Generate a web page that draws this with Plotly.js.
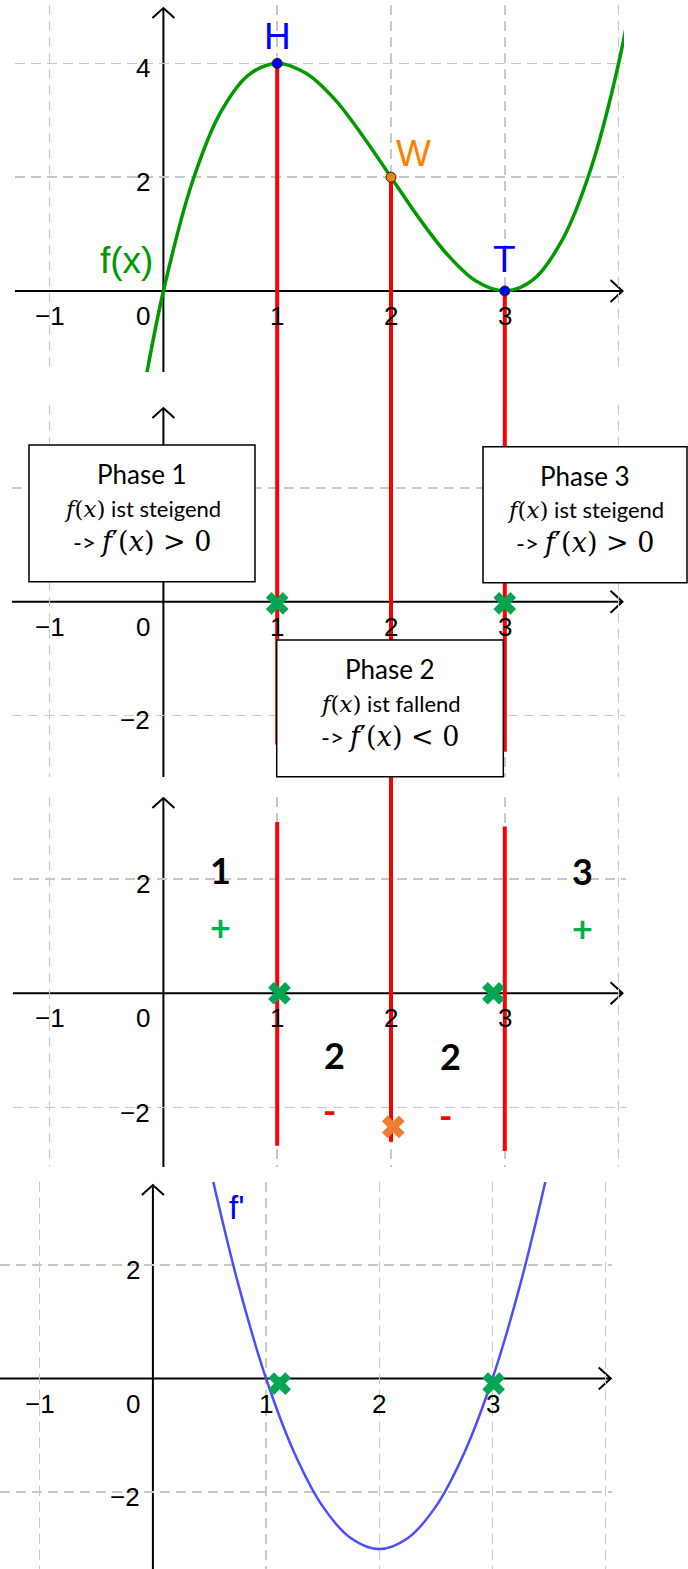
<!DOCTYPE html>
<html><head><meta charset="utf-8">
<script src="https://cdn.plot.ly/plotly-3.0.1.min.js"></script>
<style>html,body{margin:0;padding:0;background:#fff;}#chart{width:688px;height:1569px;}</style>
</head><body><div id="chart"></div>
<script>
// ---------- values ----------
// graph of f (top panel)
const fX = [-0.25,-0.15,0,0.25,0.5,0.75,1,1.25,1.5,1.75,2,2.25,2.5,2.75,3,3.25,3.5,3.75,4,4.25];
const fY = [-2.64,-1.49,0,1.89,3.13,3.80,4,3.83,3.38,2.73,2,1.27,0.63,0.17,0,0.2,0.88,2.11,4,6.64];
// graph of f' (bottom panel)
const dX = [0.4,0.5,0.75,1,1.25,1.5,1.75,2,2.25,2.5,2.75,3,3.25,3.5,3.6];
const dY = [4.68,3.75,1.69,0,-1.31,-2.25,-2.81,-3,-2.81,-2.25,-1.31,0,1.69,3.75,4.68];
// special points of f
const pointNames = ['H','W','T'];
const pointX = [1,2,3];
const pointY = [4,2,0];
const pointColors = ['#0000FF','#FF7F00','#0000FF'];
// red vertical lines (ends read per panel)
const redBottomP2 = [-2.52, -3.3, -2.64];
const redTopP3 = [3.0, 3.6, 2.92];
const redBottomP3 = [-2.67, -2.60, -2.76];
// crosses
const zeroX2 = [1, 3], zeroY2 = [-0.03, -0.03];
const zeroX3 = [1.02, 2.9], zeroY3 = [0, 0];
const turnX3 = [2.02], turnY3 = [-2.34];
const zeroX4 = [1.12, 3.01], zeroY4 = [-0.09, -0.09];
// phase numbers and signs (panel 3)
const phaseText = ['1','2','2','3'];
const phaseX = [0.50, 1.50, 2.52, 3.685];
const phaseY = [2.16, -1.08, -1.10, 2.15];
const signText = ['+','-','-','+'];
const signX = [0.50, 1.46, 2.48, 3.685];
const signY = [1.16, -2.04, -2.14, 1.14];
const signColors = ['#00B050','#FF0000','#FF0000','#00B050'];
// tick labels and grid values
const xTickVals = [-1, 1, 2, 3];
const yTickVals = [[2, 4], [-2], [2, -2], [2, -2]];
const xGridVals = [-1, 1, 2, 3, 4];
const yGridVals = [-4, -2, 2, 4];
// text boxes
const boxTitles = ['Phase 1','Phase 2','Phase 3'];
const boxVerb = ['ist steigend','ist fallend','ist steigend'];
const boxRel = ['&gt;','&lt;','&gt;'];

// ---------- geometry (pixels) ----------
const W = 688, H = 1569;
const panels = [
  {L:15, R:624, T:5,    B:372,  x0:163.4, sx:113.8, y0:291,    sy:56.9,  xTip:622.5, yTip:8},
  {L:12, R:625, T:405,  B:777,  x0:163.4, sx:113.8, y0:601.7,  sy:56.8,  xTip:622.5, yTip:408},
  {L:13, R:626, T:797,  B:1167, x0:163.4, sx:113.8, y0:993.3,  sy:57.1,  xTip:622.5, yTip:798},
  {L:0,  R:612, T:1182, B:1569, x0:152.9, sx:113.2, y0:1378.5, sy:56.85, xTip:610.7, yTip:1185}
];
const boxes = [[29,445,255,581.7],[276.7,640,503.3,776.7],[483,446.7,687,582.7]];
const lineOffsets = [29, 63, 96];

const px = p => p / W;
const py = p => 1 - p / H;

const layout = {
  width: W, height: H, margin: {l:0, r:0, t:0, b:0},
  paper_bgcolor: '#ffffff', plot_bgcolor: 'rgba(0,0,0,0)',
  showlegend: false, shapes: [], annotations: [],
  font: {family: 'Liberation Sans, Arial, sans-serif', color: '#000'}
};
const gridCommon = {showgrid:true, gridcolor:'#c8c8c8', gridwidth:1.5, griddash:'10px,6px',
  tickmode:'array', showticklabels:false, ticks:'', zeroline:false, showline:false, fixedrange:true};

function refs(k){ return k===1 ? {x:'x', y:'y', xa:'xaxis', ya:'yaxis'} : {x:'x'+k, y:'y'+k, xa:'xaxis'+k, ya:'yaxis'+k}; }

panels.forEach((p, i) => {
  const k = i + 1, r = refs(k);
  p.xr = [(p.L - p.x0) / p.sx, (p.R - p.x0) / p.sx];
  p.yr = [(p.y0 - p.B) / p.sy, (p.y0 - p.T) / p.sy];
  layout[r.xa] = Object.assign({}, gridCommon, {domain:[px(p.L), px(p.R)], range:p.xr, anchor:r.y, tickvals:xGridVals});
  layout[r.ya] = Object.assign({}, gridCommon, {domain:[py(p.B), py(p.T)], range:p.yr, anchor:r.x, tickvals:yGridVals});
  const xt = (p.xTip - p.x0) / p.sx, yt = (p.y0 - p.yTip) / p.sy;
  // axes with arrows
  layout.shapes.push({type:'line', xref:r.x, yref:r.y, x0:p.xr[0], x1:xt, y0:0, y1:0, layer:'below', line:{color:'#000', width:2}});
  layout.shapes.push({type:'line', xref:r.x, yref:r.y, x0:0, x1:0, y0:p.yr[0], y1:yt, layer:'below', line:{color:'#000', width:2}});
  layout.shapes.push({type:'path', xref:r.x, yref:r.y, xsizemode:'pixel', ysizemode:'pixel', xanchor:xt, yanchor:0,
    path:'M-12,-11L0,0L-12,11', layer:'below', line:{color:'#000', width:2}});
  layout.shapes.push({type:'path', xref:r.x, yref:r.y, xsizemode:'pixel', ysizemode:'pixel', xanchor:0, yanchor:yt,
    path:'M-11,-10L0,0L11,-10', layer:'below', line:{color:'#000', width:2}});
  // tick labels
  const tf = {family:'Liberation Sans, Arial, sans-serif', size:26, color:'#000'};
  xTickVals.forEach(v => layout.annotations.push({xref:r.x, yref:r.y, x:v, y:0, text:(v<0?'\u2212'+Math.abs(v):String(v)),
    showarrow:false, xanchor:'center', yanchor:'middle', yshift:-25, font:tf}));
  layout.annotations.push({xref:r.x, yref:r.y, x:0, y:0, text:'0', showarrow:false, xanchor:'right', yanchor:'middle', xshift:-11, yshift:-25, font:tf});
  yTickVals[i].forEach(v => layout.annotations.push({xref:r.x, yref:r.y, x:0, y:v, text:(v<0?'\u2212'+Math.abs(v):String(v)),
    showarrow:false, xanchor:'right', yanchor:'middle', xshift:-11, yshift:-5, font:tf}));
});

const data = [];
const RED = {color:'#FF0000', width:4};
function vlines(xs, tops, bottoms){
  const X = [], Y = [];
  xs.forEach((x, i) => { X.push(x, x, null); Y.push(tops[i], bottoms[i], null); });
  return {X, Y};
}
// panel 1
let v = vlines(pointX, pointY, pointX.map(() => panels[0].yr[0] - 0.5));
data.push({x:v.X, y:v.Y, xaxis:'x', yaxis:'y', mode:'lines', line:RED, hoverinfo:'skip'});
data.push({x:fX, y:fY, xaxis:'x', yaxis:'y', mode:'lines', line:{color:'#009900', width:3.5, shape:'spline'}, hoverinfo:'skip'});
data.push({x:pointX, y:pointY, xaxis:'x', yaxis:'y', mode:'markers', cliponaxis:false,
  marker:{size:10, color:pointColors, line:{color:'#222', width:1}}, hoverinfo:'skip'});
// panel 2
v = vlines(pointX, pointX.map(() => panels[1].yr[1] + 0.5), redBottomP2);
data.push({x:v.X, y:v.Y, xaxis:'x2', yaxis:'y2', mode:'lines', line:RED, hoverinfo:'skip'});
data.push({x:zeroX2, y:zeroY2, xaxis:'x2', yaxis:'y2', mode:'markers', marker:{symbol:'x', size:20, color:'#00A651'}, hoverinfo:'skip'});
// panel 3
v = vlines(pointX, redTopP3, redBottomP3);
data.push({x:v.X, y:v.Y, xaxis:'x3', yaxis:'y3', mode:'lines', line:RED, hoverinfo:'skip'});
data.push({x:zeroX3, y:zeroY3, xaxis:'x3', yaxis:'y3', mode:'markers', marker:{symbol:'x', size:20, color:'#00A651'}, hoverinfo:'skip'});
data.push({x:turnX3, y:turnY3, xaxis:'x3', yaxis:'y3', mode:'markers', marker:{symbol:'x', size:20, color:'#ED7D31'}, hoverinfo:'skip'});
// panel 4
data.push({x:dX, y:dY, xaxis:'x4', yaxis:'y4', mode:'lines', line:{color:'#4D4DFF', width:2.5, shape:'spline'}, hoverinfo:'skip'});
data.push({x:zeroX4, y:zeroY4, xaxis:'x4', yaxis:'y4', mode:'markers', marker:{symbol:'x', size:20, color:'#00A651'}, hoverinfo:'skip'});

// red lines crossing the gaps between panels
pointX.forEach(x => layout.shapes.push({type:'line', xref:'x2', yref:'paper', x0:x, x1:x,
  y0:py(panels[0].B), y1:py(panels[1].T), layer:'above', line:RED}));
layout.shapes.push({type:'line', xref:'x2', yref:'paper', x0:pointX[1], x1:pointX[1],
  y0:py(panels[1].B), y1:py(panels[2].T), layer:'above', line:RED});

// text boxes
boxes.forEach((b, i) => {
  layout.shapes.push({type:'rect', xref:'paper', yref:'paper', x0:px(b[0]), x1:px(b[2]), y0:py(b[3]), y1:py(b[1]),
    layer:'above', fillcolor:'#ffffff', line:{color:'#000', width:1.5}});
  const cx = px((b[0] + b[2]) / 2);
  const serif = "font-family:'DejaVu Serif',serif";
  const lines = [
    {t:boxTitles[i], s:26},
    {t:'<span style="' + serif + ';font-size:23px"><i>f</i>(<i>x</i>)</span> ' + boxVerb[i], s:22},
    {t:'-&gt; <span style="' + serif + ';font-size:27px"><i>f</i>\u2032(<i>x</i>) ' + boxRel[i] + ' 0</span>', s:24}
  ];
  lines.forEach((ln, j) => layout.annotations.push({xref:'paper', yref:'paper', x:cx, y:py(b[1] + lineOffsets[j]),
    text:ln.t, showarrow:false, xanchor:'center', yanchor:'middle', font:{family:'Lato, Carlito, sans-serif', size:ln.s, color:'#000'}}));
});

// labels of the graphs and points
const lblFont = c => ({family:'Liberation Sans, Arial, sans-serif', size:37, color:c});
const lblShift = [[0, 27], [22, 24], [0, 31]];
pointNames.forEach((n, i) => layout.annotations.push({xref:'x', yref:'y', x:pointX[i], y:pointY[i], text:n, showarrow:false,
  xanchor:'center', yanchor:'middle', xshift:lblShift[i][0], yshift:lblShift[i][1], font:lblFont(pointColors[i])}));
layout.annotations.push({xref:'x', yref:'y', x:-0.32, y:0.53, text:'f(x)', showarrow:false, xanchor:'center', yanchor:'middle', font:lblFont('#009900')});
layout.annotations.push({xref:'x4', yref:'y4', x:0.74, y:3.0, text:"f'", showarrow:false, xanchor:'center', yanchor:'middle',
  font:{family:'Liberation Sans, Arial, sans-serif', size:33, color:'#0000FF'}});

// phase numbers and signs
phaseText.forEach((t, i) => layout.annotations.push({xref:'x3', yref:'y3', x:phaseX[i], y:phaseY[i], text:'<b>' + t + '</b>',
  showarrow:false, xanchor:'center', yanchor:'middle', font:{family:'Lato, Carlito, sans-serif', size:36, color:'#000'}}));
signText.forEach((t, i) => layout.annotations.push({xref:'x3', yref:'y3', x:signX[i], y:signY[i], text:'<b>' + t + '</b>',
  showarrow:false, xanchor:'center', yanchor:'middle', font:{family:'Lato, Carlito, sans-serif', size:36, color:signColors[i]}}));

Plotly.newPlot('chart', data, layout, {staticPlot:true, displayModeBar:false});
</script></body></html>
